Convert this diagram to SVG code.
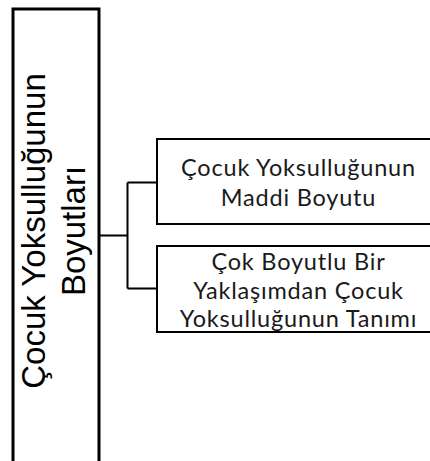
<svg xmlns="http://www.w3.org/2000/svg" width="430" height="461" viewBox="0 0 430 461">
<style>
.box{fill:#fff;stroke:#000}
.main{stroke-width:3}
.child{stroke-width:2}
.conn{fill:none;stroke:#000;stroke-width:2}
.mt{font-family:"Liberation Sans",Arial,sans-serif;font-size:33px;fill:#000;text-anchor:middle}
.ct{font-family:Lato,"Open Sans",sans-serif;font-size:23.5px;letter-spacing:0.8px;fill:#1a1a1a;text-anchor:middle}
</style>
<rect width="430" height="461" fill="#fff"/>
<g id="connectors">
<path class="conn" d="M99 235.5H127.5M127.5 182.5V288.5M127.5 182.5H157M127.5 288.5H157"/>
</g>
<g id="root">
<rect class="box main" x="13" y="9" width="86" height="470"/>
<text class="mt" transform="translate(45,231) rotate(-90)"><tspan x="0" y="0">Çocuk Yoksulluğunun</tspan><tspan x="0" y="40">Boyutları</tspan></text>
</g>
<g id="child1">
<rect class="box child" x="157" y="139" width="290" height="85"/>
<text class="ct"><tspan x="298.5" y="176">Çocuk Yoksulluğunun</tspan><tspan x="298.5" y="206">Maddi Boyutu</tspan></text>
</g>
<g id="child2">
<rect class="box child" x="157" y="246" width="290" height="86"/>
<text class="ct"><tspan x="298.5" y="270">Çok Boyutlu Bir</tspan><tspan x="298.5" y="298.5">Yaklaşımdan Çocuk</tspan><tspan x="298.5" y="327">Yoksulluğunun Tanımı</tspan></text>
</g>
</svg>
